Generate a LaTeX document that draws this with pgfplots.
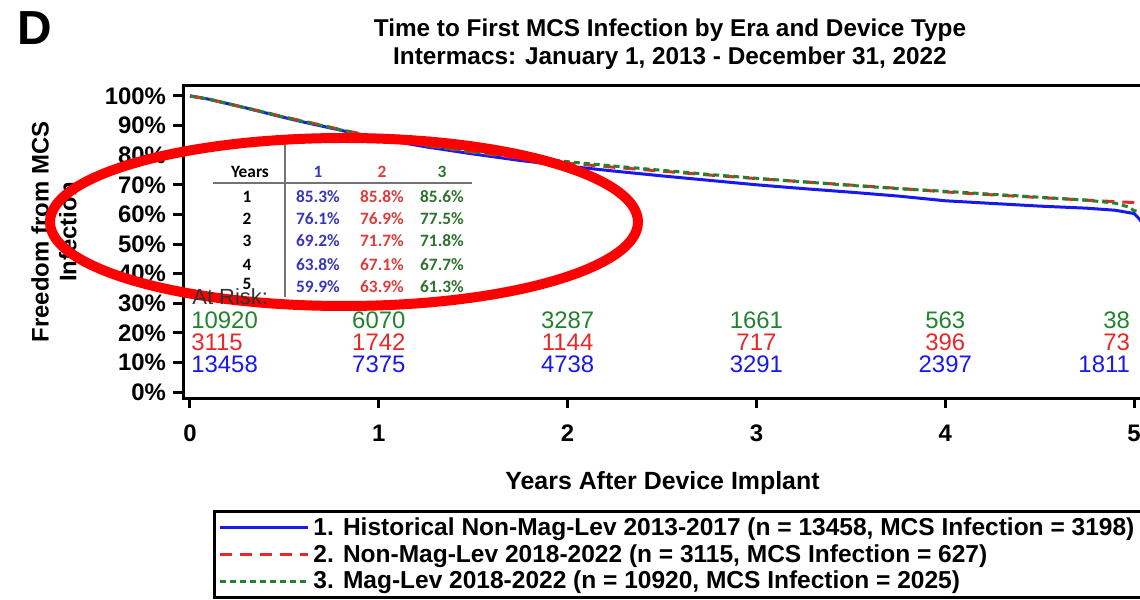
\documentclass[border=0pt]{standalone}
\usepackage{fontspec}
\setmainfont{Liberation Sans}
\newfontfamily\tabfont{Carlito}
\usepackage{pgfplots}
\pgfplotsset{compat=1.18}

\definecolor{kmblue}{RGB}{25,25,235}
\definecolor{kmred}{RGB}{230,40,40}
\definecolor{kmgreen}{RGB}{35,130,45}
\definecolor{tblue}{RGB}{55,55,185}
\definecolor{tred}{RGB}{220,60,60}
\definecolor{tgreen}{RGB}{45,115,45}

\pgfplotstableread{
x y
0 100
0.05 99.5
0.1 98.9
0.2 97.4
0.3 95.9
0.4 94.3
0.5 92.7
0.6 91.2
0.7 89.8
0.8 88.4
0.9 86.9
1.0 85.6
1.25 82.8
1.5 80.4
1.75 78.2
2.0 76.3
2.25 74.6
2.5 73.0
2.75 71.5
3.0 70.0
3.25 68.7
3.5 67.5
3.75 66.2
4.0 64.6
4.25 63.7
4.5 62.8
4.75 62.1
4.9 61.4
5.0 60.3
5.02 59.0
5.04 57.5
}\histnonmag

\pgfplotstableread{
x y
0 100
0.1 98.9
0.2 97.4
0.3 95.9
0.4 94.4
0.5 92.9
0.6 91.5
0.7 90.1
0.8 88.6
0.9 87.3
1.0 86.0
1.25 83.3
1.5 81.0
1.75 79.0
2.0 77.3
2.25 75.9
2.5 74.6
2.75 73.3
3.0 72.1
3.25 71.0
3.5 69.9
3.75 68.8
4.0 67.6
4.25 66.6
4.5 65.7
4.75 64.8
5.0 64.0
5.04 63.8
}\nonmag

\pgfplotstableread{
x y
0 100
0.1 98.9
0.2 97.4
0.3 95.9
0.4 94.4
0.5 92.8
0.6 91.4
0.7 90.0
0.8 88.5
0.9 87.1
1.0 85.8
1.25 83.3
1.5 81.2
1.75 79.4
2.0 77.8
2.25 76.3
2.5 74.9
2.75 73.5
3.0 72.2
3.25 71.0
3.5 69.8
3.75 68.7
4.0 67.8
4.25 66.8
4.5 65.8
4.75 64.8
4.9 63.8
4.97 62.5
5.0 61.3
5.04 60.8
}\maglev

\begin{document}
\begin{tikzpicture}
\useasboundingbox (-91.5bp,-101bp) rectangle (478.5bp,199bp);
\clip (-91.5bp,-101bp) rectangle (478.5bp,199bp);
\begin{axis}[
    at={(0,0)}, anchor=south west,
    scale only axis,
    width=479.5bp, height=156.5bp,
    xmin=-0.037, xmax=5.042,
    ymin=-2, ymax=103.7,
    xtick={0,1,2,3,4,5},
    ytick={0,10,20,30,40,50,60,70,80,90,100},
    yticklabels={0\%,10\%,20\%,30\%,40\%,50\%,60\%,70\%,80\%,90\%,100\%},
    xtick pos=bottom, ytick pos=left,
    tick align=outside,
    major tick length=5bp,
    tick style={line width=1.5bp, black},
    axis line style={line width=1.5bp},
    /pgf/number format/assume math mode=true,
    ticklabel style={font=\fontsize{12}{14}\selectfont\bfseries},
    xticklabel style={yshift=-5bp},
    xlabel={Years After Device Implant},
    xlabel style={font=\fontsize{12.5}{15}\selectfont\bfseries, yshift=-8bp},
    legend style={at={(0.0313,-0.358)}, anchor=north west,
        draw=black, line width=1.5bp, fill=white,
        font=\fontsize{12.3}{13}\selectfont\bfseries,
        inner xsep=2bp, inner ysep=1bp, row sep=-1bp},
    legend cell align=left,
    legend image code/.code={\draw[#1] (0bp,0bp) -- (42bp,0bp); \path (0bp,0bp) -- (44bp,0bp);},
]
\addplot[kmblue, line width=1.5bp] table[x=x, y=y] {\histnonmag};
\addlegendentry{1. Historical Non-Mag-Lev 2013-2017 (n = 13458, MCS Infection = 3198)}
\addplot[kmred, line width=1.5bp, dash pattern=on 6bp off 4bp] table[x=x, y=y] {\nonmag};
\addlegendentry{2. Non-Mag-Lev 2018-2022 (n = 3115, MCS Infection = 627)}
\addplot[kmgreen, line width=1.5bp, dash pattern=on 3bp off 2bp] table[x=x, y=y] {\maglev};
\addlegendentry{3. Mag-Lev 2018-2022 (n = 10920, MCS Infection = 2025)}

% numbers at risk
\begin{scope}[every node/.style={font=\fontsize{12}{14}\selectfont, inner sep=0pt}]
\node[anchor=west, text=kmgreen] at (axis cs:0.005,24.3) {10920};
\node[text=kmgreen] at (axis cs:1,24.3) {6070};
\node[text=kmgreen] at (axis cs:2,24.3) {3287};
\node[text=kmgreen] at (axis cs:3,24.3) {1661};
\node[text=kmgreen] at (axis cs:4,24.3) {563};
\node[anchor=east, text=kmgreen] at (axis cs:4.98,24.3) {38};
\node[anchor=west, text=kmred] at (axis cs:0.005,16.9) {3115};
\node[text=kmred] at (axis cs:1,16.9) {1742};
\node[text=kmred] at (axis cs:2,16.9) {1144};
\node[text=kmred] at (axis cs:3,16.9) {717};
\node[text=kmred] at (axis cs:4,16.9) {396};
\node[anchor=east, text=kmred] at (axis cs:4.98,16.9) {73};
\node[anchor=west, text=kmblue] at (axis cs:0.005,9.5) {13458};
\node[text=kmblue] at (axis cs:1,9.5) {7375};
\node[text=kmblue] at (axis cs:2,9.5) {4738};
\node[text=kmblue] at (axis cs:3,9.5) {3291};
\node[text=kmblue] at (axis cs:4,9.5) {2397};
\node[anchor=east, text=kmblue] at (axis cs:4.98,9.5) {1811};
\end{scope}
\end{axis}

% y label
\node[rotate=90, align=center, font=\fontsize{12}{14}\selectfont\bfseries] at (-64.5bp,83bp) {Freedom from MCS\\Infection};

% title and panel letter
\node[align=center, font=\fontsize{12.2}{14}\selectfont\bfseries] at (243.5bp,177bp) {Time to First MCS Infection by Era and Device Type\\Intermacs: January 1, 2013 - December 31, 2022};
\node[font=\fontsize{24}{26}\selectfont\bfseries] at (-74bp,185bp) {D};

% inset survival table
\begin{scope}[every node/.style={font=\tabfont\bfseries\fontsize{8.7}{10}\selectfont, inner sep=0pt}]
\draw[black!55, line width=0.6bp] (15bp,107.5bp) -- (144.5bp,107.5bp);
\draw[black!55, line width=0.6bp] (51bp,128bp) -- (51bp,50.5bp);
\node at (33.5bp,113bp) {Years};
\node[text=tblue] at (67.5bp,113bp) {1};
\node[text=tred] at (99.5bp,113bp) {2};
\node[text=tgreen] at (129.5bp,113bp) {3};
\node at (32bp,100.5bp) {1};
\node[text=tblue] at (67.5bp,100.5bp) {85.3\%};
\node[text=tred] at (99.5bp,100.5bp) {85.8\%};
\node[text=tgreen] at (129.5bp,100.5bp) {85.6\%};
\node at (32bp,89.5bp) {2};
\node[text=tblue] at (67.5bp,89.5bp) {76.1\%};
\node[text=tred] at (99.5bp,89.5bp) {76.9\%};
\node[text=tgreen] at (129.5bp,89.5bp) {77.5\%};
\node at (32bp,78.5bp) {3};
\node[text=tblue] at (67.5bp,78.5bp) {69.2\%};
\node[text=tred] at (99.5bp,78.5bp) {71.7\%};
\node[text=tgreen] at (129.5bp,78.5bp) {71.8\%};
\node at (32bp,66.5bp) {4};
\node[text=tblue] at (67.5bp,66.5bp) {63.8\%};
\node[text=tred] at (99.5bp,66.5bp) {67.1\%};
\node[text=tgreen] at (129.5bp,66.5bp) {67.7\%};
\node at (32bp,57bp) {5};
\node[text=tblue] at (67.5bp,55.5bp) {59.9\%};
\node[text=tred] at (99.5bp,55.5bp) {63.9\%};
\node[text=tgreen] at (129.5bp,55.5bp) {61.3\%};
\end{scope}

% red highlight ellipse
\draw[red, line width=5bp] (80.5bp,88bp) ellipse [x radius=147bp, y radius=42bp];

% at-risk caption sits over the ellipse
\node[anchor=west, font=\fontsize{11}{12}\selectfont, text=black!80, inner sep=0pt] at (4.5bp,50.5bp) {At Risk:};
\end{tikzpicture}
\end{document}
